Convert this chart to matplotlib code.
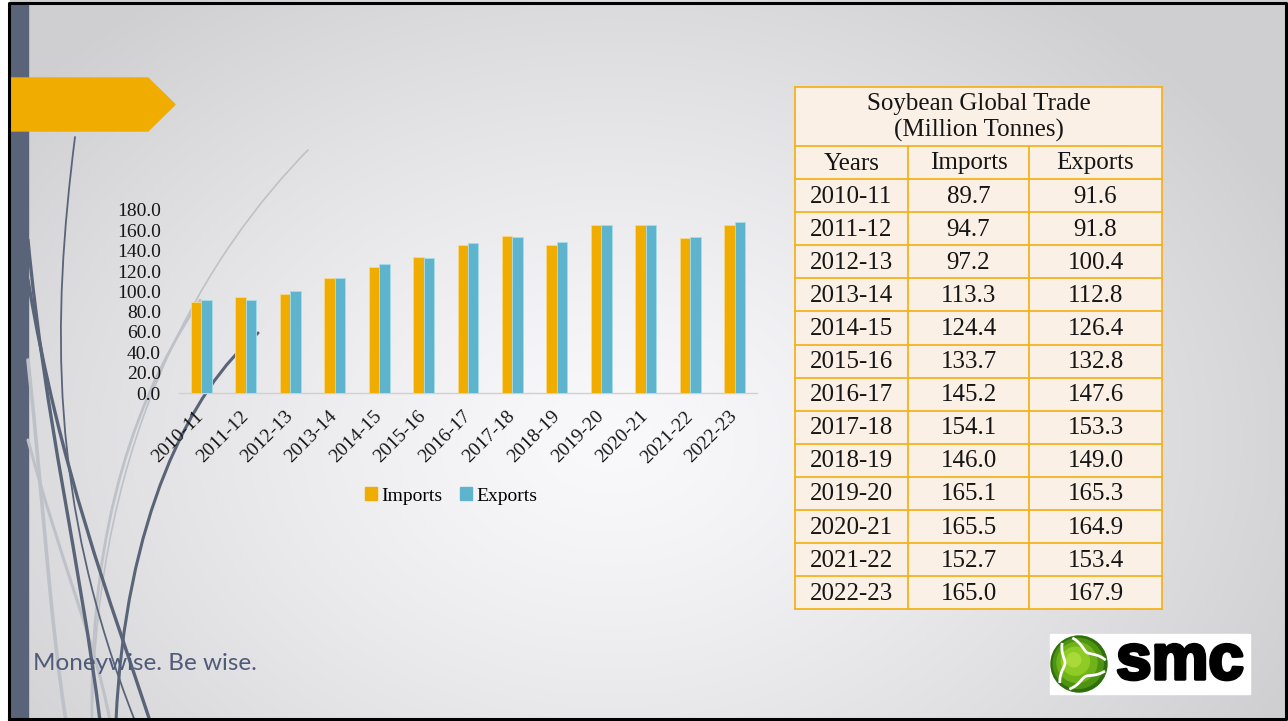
import numpy as np
import matplotlib.pyplot as plt
from matplotlib.patches import Polygon, Rectangle, Circle, PathPatch, Patch
from matplotlib.path import Path
import matplotlib.patheffects as pe

plt.rcParams['font.family'] = ['Liberation Serif', 'DejaVu Serif']

# Soybean global trade, million tonnes
years = ['2010-11', '2011-12', '2012-13', '2013-14', '2014-15', '2015-16', '2016-17',
         '2017-18', '2018-19', '2019-20', '2020-21', '2021-22', '2022-23']
imports = [89.7, 94.7, 97.2, 113.3, 124.4, 133.7, 145.2, 154.1, 146.0, 165.1, 165.5, 152.7, 165.0]
exports = [91.6, 91.8, 100.4, 112.8, 126.4, 132.8, 147.6, 153.3, 149.0, 165.3, 164.9, 153.4, 167.9]
yticks = np.arange(0, 181, 20)

table_title = 'Soybean Global Trade\n(Million Tonnes)'
table_header = ['Years', 'Imports', 'Exports']

ORANGE = '#F0AD00'
BLUE = '#5EB4CD'
SLATE = '#5A6479'
INK = '#151515'

W, H = 1288, 721
fig = plt.figure(figsize=(W / 100, H / 100), dpi=100)

# slide layer in pixel coordinates
bg = fig.add_axes([0, 0, 1, 1])
bg.set_xlim(0, W)
bg.set_ylim(H, 0)
bg.axis('off')

# soft radial background
yy, xx = np.mgrid[0:H, 0:W]
d = np.sqrt(((xx - 610) / 760.0) ** 2 + ((yy - 440) / 560.0) ** 2)
shade = 249 - 42 * np.clip(d, 0, 1) ** 1.3
img = np.dstack([shade, shade, shade + 2]).clip(0, 255) / 255.0
bg.imshow(img, extent=(0, W, H, 0), zorder=0, aspect='auto')

# frame and side band
bg.add_patch(Rectangle((0, 0), 9, H, color='white', zorder=1))
bg.add_patch(Rectangle((10, 4), 18, H - 6, color=SLATE, zorder=2))
bg.plot([9, 9, W - 2, W - 2, 9], [H - 2, 3, 3, H - 2, H - 2], color='black', lw=2.2, zorder=6)

# decorative swoosh curves
def swoosh(pts, color, lw, z=2):
    codes = [Path.MOVETO, Path.CURVE4, Path.CURVE4, Path.CURVE4]
    bg.add_patch(PathPatch(Path(pts, codes), fc='none', ec=color, lw=lw, zorder=z,
                           capstyle='round'))

GREY = '#BEC1C7'
swoosh([(308, 150), (210, 250), (95, 430), (92, 721)], GREY, 1.2)
swoosh([(200, 300), (120, 420), (90, 560), (92, 721)], GREY, 2.0)
swoosh([(28, 360), (45, 520), (50, 620), (66, 721)], GREY, 2.6)
swoosh([(28, 440), (60, 560), (95, 640), (110, 721)], GREY, 2.2)
swoosh([(75, 137), (52, 320), (48, 500), (135, 721)], SLATE, 1.3)
swoosh([(28, 240), (45, 420), (80, 560), (100, 721)], SLATE, 2.4)
swoosh([(28, 280), (60, 470), (110, 600), (150, 721)], SLATE, 2.4)
swoosh([(258, 333), (190, 390), (125, 520), (116, 721)], SLATE, 2.2)

# orange title tab
bg.add_patch(Polygon([(10, 78), (148, 78), (175, 104.5), (148, 131), (10, 131)],
                     closed=True, color=ORANGE, zorder=3))

# tagline
bg.text(33, 664, 'Moneywise. Be wise.', family=['Lato', 'DejaVu Sans'], fontsize=17.5,
        color='#4F5B78', va='center', ha='left', zorder=3)

# data table
col_x = [795, 908, 1029, 1162]
top, title_bot, head_bot, row_h = 87, 146, 179, 33.1
tbot = head_bot + row_h * len(years)
bg.add_patch(Rectangle((col_x[0], top), col_x[-1] - col_x[0], tbot - top,
                       fc='#FBF0E6', ec='none', zorder=3))
lc = dict(color='#F5B21E', lw=1.3, zorder=4)
for y in [top, title_bot, head_bot] + [head_bot + row_h * (i + 1) for i in range(len(years))]:
    bg.plot([col_x[0], col_x[-1]], [y, y], **lc)
for x in [col_x[0], col_x[-1]]:
    bg.plot([x, x], [top, tbot], **lc)
for x in col_x[1:-1]:
    bg.plot([x, x], [title_bot, tbot], **lc)

tk = dict(fontsize=18, color=INK, ha='center', va='center', zorder=5)
bg.text((col_x[0] + col_x[-1]) / 2, (top + title_bot) / 2 + 1, table_title,
        linespacing=1.2, **tk)
centers = [(col_x[i] + col_x[i + 1]) / 2 for i in range(3)]
for c, h in zip(centers, table_header):
    bg.text(c, (title_bot + head_bot) / 2 + 1, h, **tk)
for i, (yr, im, ex) in enumerate(zip(years, imports, exports)):
    yc = head_bot + row_h * (i + 0.5) + 1
    for c, s in zip(centers, [yr, f'{im:.1f}', f'{ex:.1f}']):
        bg.text(c, yc, s, **tk)

# logo
bg.add_patch(Rectangle((1050, 634), 200, 60, color='white', zorder=3))
for r, col in zip([28, 25, 20, 14, 7], ['#2E6E0B', '#4E9312', '#6FB21A', '#8ECB24', '#A9DA3A']):
    bg.add_patch(Circle((1079 - (28 - r) * 0.25, 664 - (28 - r) * 0.2), r, color=col, zorder=4))
for a0 in [0.3, 2.4, 4.5]:
    t = np.linspace(a0, a0 + 1.6, 60)
    rr = 26 - 12 * np.sin((t - a0) / 1.6 * np.pi)
    bg.plot(1079 + rr * np.cos(t), 664 + rr * np.sin(t), color='white', lw=2.0, zorder=5)
bg.text(1180, 662, 'smc', family=['Liberation Sans', 'DejaVu Sans'], fontweight='bold',
        fontsize=46, color='black', ha='center', va='center', zorder=5,
        path_effects=[pe.withStroke(linewidth=2.5, foreground='black')])

# bar chart
ax = fig.add_axes([179 / W, (H - 393) / H, 578 / W, 183 / H])
ax.patch.set_alpha(0)
x = np.arange(len(years))
bw = 0.236
ax.bar(x - bw / 2, imports, bw, color=ORANGE, edgecolor='#F6D98A', lw=0.6, label='Imports', zorder=3)
ax.bar(x + bw / 2, exports, bw, color=BLUE, edgecolor='#A9DCE8', lw=0.6, label='Exports', zorder=3)
ax.set_xlim(-0.5, len(years) - 0.5)
ax.set_ylim(0, 180)
ax.set_yticks(yticks)
ax.set_yticklabels([f'{v:.1f}' for v in yticks], fontsize=14, color=INK)
ax.set_xticks(x)
ax.set_xticklabels(years, fontsize=14, color=INK, rotation=45, ha='right', va='center',
                   rotation_mode='anchor')
ax.tick_params(axis='y', length=0, pad=13)
ax.tick_params(axis='x', length=0, pad=15)
for s in ['top', 'right', 'left']:
    ax.spines[s].set_visible(False)
ax.spines['bottom'].set_color('#D0D0D0')
ax.spines['bottom'].set_linewidth(1.0)

handles = [Patch(color=ORANGE, label='Imports'), Patch(color=BLUE, label='Exports')]
fig.legend(handles=handles, loc='center', bbox_to_anchor=(451 / W, 1 - 496 / H), ncol=2,
           frameon=False, fontsize=14, handlelength=0.65, handleheight=0.65,
           handletextpad=0.2, columnspacing=0.9)

fig.savefig('out.png', dpi=100)
